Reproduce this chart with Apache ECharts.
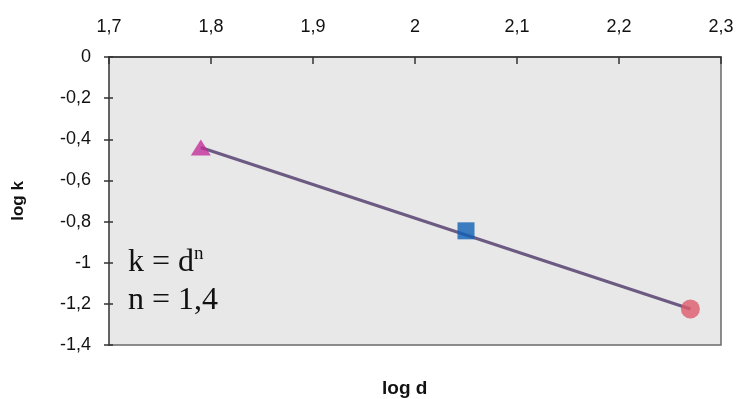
<!DOCTYPE html>
<html>
<head>
<meta charset="utf-8">
<script src="https://cdn.jsdelivr.net/npm/echarts@6/dist/echarts.min.js"></script>
<style>
html,body{margin:0;padding:0;background:#fff;}
#c{width:738px;height:399px;}
</style>
</head>
<body>
<div id="c"></div>
<script>
// data
const logD = [1.79, 2.05, 2.27];
const logK = [-0.44, -0.845, -1.225];
const trendX = [1.79, 2.27];
const trendY = [-0.44, -1.225];
const xTicks = { min: 1.7, max: 2.3, step: 0.1 };
const yTicks = { min: -1.4, max: 0, step: 0.2 };
const annotation1 = 'k = d';
const annotationSup = 'n';
const annotation2 = 'n = 1,4';

function fmt(v) {
  const r = Math.round(v * 10) / 10;
  return String(r).replace('.', ',');
}

const chart = echarts.init(document.getElementById('c'));
const axisLabelStyle = { color: '#111', fontSize: 18, fontFamily: 'Liberation Sans, Arial, sans-serif' };
const option = {
  backgroundColor: '#ffffff',
  animation: false,
  grid: {
    left: 109, right: 17, top: 57, bottom: 54,
    show: true, backgroundColor: '#e8e8e8', borderColor: '#6a6a6a', borderWidth: 1.5
  },
  xAxis: [{
    type: 'value', position: 'top',
    min: xTicks.min, max: xTicks.max, interval: xTicks.step,
    axisLine: { show: true, lineStyle: { color: '#333', width: 1.5 } },
    axisTick: { show: true, inside: true, length: 7, lineStyle: { color: '#333', width: 1.5 } },
    axisLabel: Object.assign({ formatter: fmt, margin: 21 }, axisLabelStyle),
    splitLine: { show: false }
  }],
  yAxis: [{
    type: 'value',
    min: yTicks.min, max: yTicks.max, interval: yTicks.step,
    axisLine: { show: true, lineStyle: { color: '#555', width: 1.5 } },
    axisTick: { show: true, length: 5, lineStyle: { color: '#333', width: 1.5 } },
    axisLabel: Object.assign({ formatter: fmt, margin: 18 }, axisLabelStyle),
    splitLine: { show: false },
    name: 'log k', nameLocation: 'middle', nameGap: 82, nameRotate: 90,
    nameTextStyle: { fontSize: 17, fontWeight: 'bold', color: '#111', fontFamily: 'Liberation Sans, Arial, sans-serif' }
  }, {
    type: 'value',
    min: yTicks.min, max: yTicks.max, interval: yTicks.step,
    position: 'left',
    axisLine: { show: false },
    axisTick: { show: true, inside: true, length: 4, lineStyle: { color: '#333', width: 1.5 } },
    axisLabel: { show: false },
    splitLine: { show: false }
  }],
  graphic: [
    { type: 'text', x: 382, y: 389, style: { text: 'log d', font: 'bold 19px "Liberation Sans", Arial, sans-serif', fill: '#111', textVerticalAlign: 'middle' } },
    { type: 'text', x: 128, y: 263, style: { text: annotation1, font: '32px "Liberation Serif", "Times New Roman", serif', fill: '#111', textVerticalAlign: 'middle' } },
    { type: 'text', x: 194, y: 254, style: { text: annotationSup, font: '19px "Liberation Serif", "Times New Roman", serif', fill: '#111', textVerticalAlign: 'middle' } },
    { type: 'text', x: 128, y: 301, style: { text: annotation2, font: '32px "Liberation Serif", "Times New Roman", serif', fill: '#111', textVerticalAlign: 'middle' } }
  ],
  series: [
    {
      type: 'line', data: trendX.map((x, i) => [x, trendY[i]]),
      symbol: 'none', lineStyle: { color: '#6c5a82', width: 3 }, z: 2
    },
    {
      type: 'scatter', data: [[logD[0], logK[0]]], symbol: 'triangle', symbolSize: [20, 16],
      itemStyle: { color: '#c2309a' }, z: 3
    },
    {
      type: 'scatter', data: [[logD[1], logK[1]]], symbol: 'rect', symbolSize: 17,
      itemStyle: { color: '#0f5fb5' }, z: 3
    },
    {
      type: 'scatter', data: [[logD[2], logK[2]]], symbol: 'circle', symbolSize: 19,
      itemStyle: { color: '#dc5a6c' }, z: 3
    }
  ]
};
chart.setOption(option);
</script>
</body>
</html>
